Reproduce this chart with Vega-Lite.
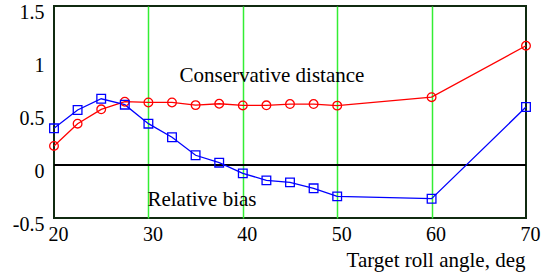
{
  "$schema": "https://vega.github.io/schema/vega-lite/v6.json",
  "autosize": "none",
  "width": 472,
  "height": 212,
  "padding": {"left": 54, "top": 6, "right": 17, "bottom": 59},
  "background": "white",
  "config": {
    "view": {"stroke": "#102a10", "strokeWidth": 2},
    "font": "Liberation Serif, Times New Roman, serif",
    "text": {"font": "Liberation Serif, Times New Roman, serif"},
    "axis": {
      "labelFont": "Liberation Serif, Times New Roman, serif",
      "titleFont": "Liberation Serif, Times New Roman, serif",
      "labelColor": "black",
      "titleColor": "black",
      "labelFontSize": 20,
      "titleFontSize": 21,
      "titleFontWeight": "normal",
      "ticks": false,
      "domain": false,
      "gridColor": "#33ee33",
      "gridWidth": 1.5,
      "gridOpacity": 1
    }
  },
  "datasets": {
    "series": [
      {"angle": 20, "value": 0.18, "series": "Conservative distance"},
      {"angle": 22.5, "value": 0.39, "series": "Conservative distance"},
      {"angle": 25, "value": 0.525, "series": "Conservative distance"},
      {"angle": 27.5, "value": 0.597, "series": "Conservative distance"},
      {"angle": 30, "value": 0.59, "series": "Conservative distance"},
      {"angle": 32.5, "value": 0.59, "series": "Conservative distance"},
      {"angle": 35, "value": 0.565, "series": "Conservative distance"},
      {"angle": 37.5, "value": 0.578, "series": "Conservative distance"},
      {"angle": 40, "value": 0.562, "series": "Conservative distance"},
      {"angle": 42.5, "value": 0.563, "series": "Conservative distance"},
      {"angle": 45, "value": 0.575, "series": "Conservative distance"},
      {"angle": 47.5, "value": 0.575, "series": "Conservative distance"},
      {"angle": 50, "value": 0.56, "series": "Conservative distance"},
      {"angle": 60, "value": 0.64, "series": "Conservative distance"},
      {"angle": 70, "value": 1.125, "series": "Conservative distance"},
      {"angle": 20, "value": 0.346, "series": "Relative bias"},
      {"angle": 22.5, "value": 0.519, "series": "Relative bias"},
      {"angle": 25, "value": 0.625, "series": "Relative bias"},
      {"angle": 27.5, "value": 0.569, "series": "Relative bias"},
      {"angle": 30, "value": 0.39, "series": "Relative bias"},
      {"angle": 32.5, "value": 0.262, "series": "Relative bias"},
      {"angle": 35, "value": 0.092, "series": "Relative bias"},
      {"angle": 37.5, "value": 0.022, "series": "Relative bias"},
      {"angle": 40, "value": -0.079, "series": "Relative bias"},
      {"angle": 42.5, "value": -0.145, "series": "Relative bias"},
      {"angle": 45, "value": -0.164, "series": "Relative bias"},
      {"angle": 47.5, "value": -0.22, "series": "Relative bias"},
      {"angle": 50, "value": -0.296, "series": "Relative bias"},
      {"angle": 60, "value": -0.318, "series": "Relative bias"},
      {"angle": 70, "value": 0.547, "series": "Relative bias"}
    ],
    "labels": [
      {"angle": 33.3, "value": 0.84, "text": "Conservative distance"},
      {"angle": 29.9, "value": -0.33, "text": "Relative bias"}
    ]
  },
  "layer": [
    {
      "data": {"name": "series"},
      "mark": {"type": "rule", "color": "black", "strokeWidth": 2},
      "encoding": {
        "y": {"datum": 0, "type": "quantitative"}
      }
    },
    {
      "data": {"name": "series"},
      "mark": {"type": "line", "strokeWidth": 1.3},
      "encoding": {
        "x": {
          "field": "angle", "type": "quantitative",
          "scale": {"domain": [20, 70], "nice": false, "zero": false},
          "axis": {
            "values": [20, 30, 40, 50, 60, 70],
            "title": "Target roll angle, deg",
            "titleAnchor": "end",
            "titleAlign": "right",
            "titleX": 471,
            "titlePadding": 5,
            "labelPadding": 6,
            "labelOffset": 4,
            "labelFlush": false,
            "gridOpacity": {"condition": {"test": "datum.value == 20 || datum.value == 70", "value": 0}, "value": 1}
          }
        },
        "y": {
          "field": "value", "type": "quantitative",
          "scale": {"domain": [-0.5, 1.5], "nice": false, "zero": false},
          "axis": {
            "values": [-0.5, 0, 0.5, 1, 1.5],
            "title": null,
            "labelPadding": 10,
            "labelOffset": 6,
            "labelFlush": false,
            "labelExpr": "datum.value == 0 ? '0' : replace(format(datum.value, '.1~f'), '\u2212', '-')",
            "gridOpacity": {"condition": {"test": "datum.value == -0.5 || datum.value == 1.5 || datum.value == 0", "value": 0}, "value": 1}
          }
        },
        "color": {
          "field": "series", "type": "nominal",
          "scale": {"domain": ["Conservative distance", "Relative bias"], "range": ["#ff0000", "#0000ff"]},
          "legend": null
        }
      }
    },
    {
      "data": {"name": "series"},
      "mark": {"type": "point", "filled": false, "strokeWidth": 1.3, "size": 75, "opacity": 1},
      "encoding": {
        "x": {"field": "angle", "type": "quantitative"},
        "y": {"field": "value", "type": "quantitative"},
        "color": {"field": "series", "type": "nominal", "legend": null},
        "shape": {
          "field": "series", "type": "nominal",
          "scale": {"domain": ["Conservative distance", "Relative bias"], "range": ["circle", "square"]},
          "legend": null
        }
      }
    },
    {
      "data": {"name": "labels"},
      "mark": {"type": "text", "align": "left", "baseline": "middle", "fontSize": 21, "color": "black"},
      "encoding": {
        "x": {"field": "angle", "type": "quantitative"},
        "y": {"field": "value", "type": "quantitative"},
        "text": {"field": "text"}
      }
    }
  ]
}
